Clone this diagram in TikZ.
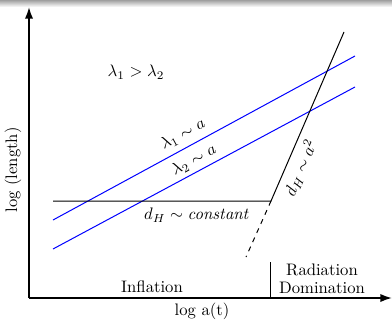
\documentclass[tikz,border=0pt]{standalone}
\usetikzlibrary{arrows.meta}

\begin{document}
\begin{tikzpicture}[x=0.6pt, y=-0.6pt, semithick]
  \useasboundingbox (0,0) rectangle (392,321);
  % header shading
  \shade[top color=gray!75, bottom color=white] (0,0) rectangle (392,7);

  % axes
  \draw[line width=1.1pt, -{Latex[length=7pt,width=5pt]}] (29,298) -- (29,7);
  \draw[line width=1.1pt, -{Latex[length=7pt,width=5pt]}] (29,298) -- (392,298);
  \node[rotate=90] (ylab) at (13,170) {log (length)};
  \node (xlab) at (202,311) {log a(t)};

  % era split
  \draw (270,298) -- (270,262);
  \node (infl) at (152,287) {Inflation};
  \node[align=center, inner sep=0pt] (rad) at (322,279) {Radiation\\[-1pt]Domination};

  % wavelengths
  \draw[blue] (53,220) -- (355,56);
  \draw[blue] (53,249) -- (355,87);
  \node[rotate=28.5] (lam1) at (183,134) {$\lambda_1 \sim a$};
  \node[rotate=28.5] (lam2) at (194,160) {$\lambda_2 \sim a$};
  \node (order) at (136,72) {$\lambda_1 > \lambda_2$};

  % horizon
  \draw (53,201) -- (271,201) -- (344,32);
  \draw[dashed] (271,201) -- (246,257);
  \node (dconst) at (197,215) {$d_H \sim \mathit{constant}$};
  \node[rotate=66.6, inner sep=1pt] (drad) at (301,168) {$d_H \sim a^2$};
\end{tikzpicture}
\end{document}
